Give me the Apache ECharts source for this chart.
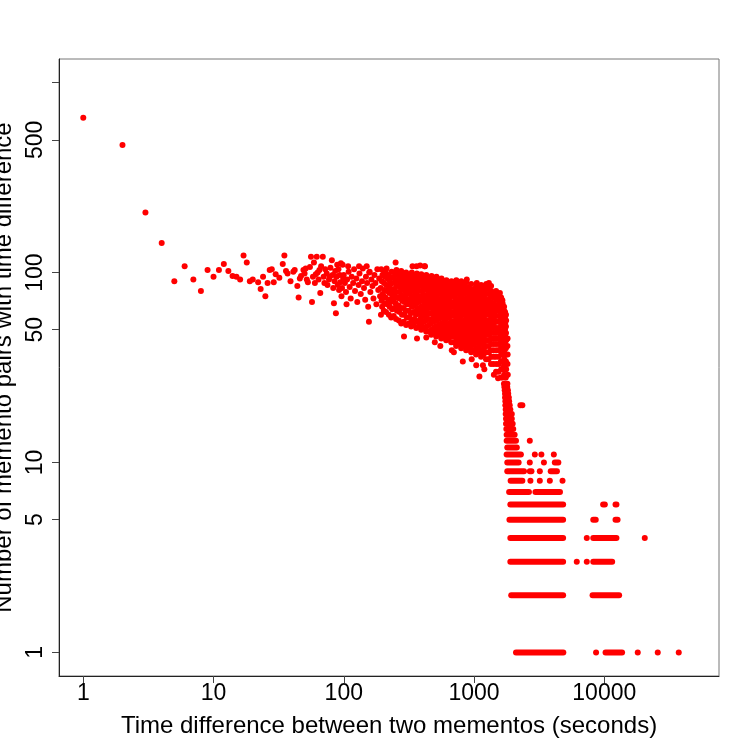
<!DOCTYPE html>
<html>
<head>
<meta charset="utf-8">
<script src="https://cdn.jsdelivr.net/npm/echarts@6/dist/echarts.min.js"></script>
<style>
html, body { margin: 0; padding: 0; background: #fff; }
#main { width: 750px; height: 750px; }
</style>
</head>
<body>
<div id="main"></div>
<script>
var xTicks = [1, 10, 100, 1000, 10000];
var yTicks = [1, 5, 10, 50, 100, 500, 1000];
var yLabels = [1, 5, 10, 50, 100, 500];

// [seconds, pairs] - short gaps
var headPoints = [
    [1, 654], [2, 469], [3, 207], [4, 143], [5, 90], [6, 108], [7, 92], [8, 80], [9, 103], [10, 95],
    [11, 103], [12, 111], [13, 102], [14, 96], [15, 95], [16, 92], [17, 123], [18, 113], [19, 90],
    [20, 92], [22, 89], [23, 82], [24, 95], [25, 75], [26, 88], [27, 103], [28, 104], [29, 89], [30, 98],
    [32, 94], [34, 111], [35, 123], [36, 102], [37, 99], [39, 90], [41, 101], [42, 103], [44, 85], [45, 74],
    [46, 93], [47, 96], [49, 103], [50, 99], [51, 105], [52, 92], [53, 89], [55, 107], [56, 121], [57, 70],
    [58, 95], [59, 113], [60, 88], [61, 98], [62, 121], [63, 100], [64, 92], [65, 103], [66, 78], [67, 108],
    [69, 121], [70, 95], [71, 88], [72, 104], [74, 99], [75, 86], [77, 92], [78, 95], [79, 106], [81, 116],
    [82, 97], [83, 83], [84, 69], [85, 90], [86, 102], [87, 61], [88, 95], [89, 110], [90, 86], [91, 104],
    [92, 81], [93, 97], [94, 89], [95, 112], [96, 75], [97, 83], [98, 110], [99, 93]
];

// 100 .. 190 s
var midPoints = [
    [100, 97], [102, 88], [104, 79], [105, 68], [106, 92], [108, 108], [109, 101], [111, 84], [113, 73],
    [115, 95], [118, 88], [120, 104], [122, 80], [125, 93], [127, 70], [130, 86], [131, 108], [132, 99],
    [135, 77], [138, 90], [140, 105], [143, 83], [146, 72], [148, 95], [150, 108], [151, 88], [154, 66],
    [156, 55], [157, 100], [158, 101], [160, 79], [163, 92], [166, 85], [169, 73], [172, 97], [175, 88],
    [178, 68], [181, 104], [184, 81], [187, 93], [190, 75]
];

// dense part, 190 .. 1800 s
var cloudPoints = [
    [193, 60], [197, 66], [195, 71], [199, 77], [192, 83], [196, 90], [198, 97], [194, 104],
    [211, 62], [215, 68], [209, 74], [214, 80], [212, 86], [216, 93], [210, 100], [213, 105],
    [231, 58], [235, 64], [229, 70], [236, 75], [232, 81], [230, 87], [234, 94], [233, 101],
    [252, 57], [256, 63], [250, 69], [257, 74], [253, 79], [255, 85], [251, 91], [258, 97], [254, 103], [250, 113],
    [276, 54], [280, 60], [274, 65], [281, 71], [277, 76], [279, 82], [275, 87], [282, 92], [278, 98], [276, 102],
    [301, 53], [305, 58], [299, 63], [306, 68], [302, 73], [304, 78], [300, 83], [307, 88], [303, 94], [301, 100],
    [329, 52], [333, 56], [327, 61], [334, 66], [330, 70], [332, 75], [328, 80], [335, 85], [331, 90], [329, 95], [333, 100],
    [360, 51], [364, 55], [358, 60], [365, 64], [361, 69], [363, 73], [359, 78], [366, 83], [362, 88], [360, 93], [364, 99], [362, 108],
    [393, 50], [397, 54], [391, 58], [398, 62], [394, 66], [396, 71], [392, 75], [399, 80], [395, 85], [393, 90], [397, 95], [394, 98],
    [429, 49], [433, 52], [427, 56], [434, 60], [430, 64], [432, 68], [428, 72], [435, 76], [431, 81], [429, 86], [433, 91], [430, 97], [420, 108],
    [469, 47], [473, 50], [467, 54], [474, 57], [470, 61], [472, 65], [468, 69], [475, 73], [471, 77], [469, 82], [473, 87], [470, 92], [472, 96],
    [512, 46], [516, 49], [510, 52], [517, 56], [513, 59], [515, 63], [511, 67], [518, 71], [514, 75], [512, 80], [516, 85], [513, 90], [515, 95],
    [560, 45], [564, 48], [558, 51], [565, 54], [561, 58], [563, 61], [559, 65], [566, 69], [562, 73], [560, 78], [564, 83], [561, 88], [563, 93],
    [611, 44], [615, 47], [609, 50], [616, 53], [612, 57], [614, 60], [610, 64], [617, 68], [613, 72], [611, 76], [615, 81], [612, 86], [614, 91],
    [668, 43], [672, 46], [666, 49], [673, 52], [669, 55], [671, 59], [667, 62], [674, 66], [670, 70], [668, 75], [672, 79], [669, 84], [671, 90],
    [729, 41], [733, 44], [727, 47], [734, 50], [730, 53], [732, 57], [728, 60], [735, 64], [731, 68], [729, 72], [733, 77], [730, 82], [732, 87], [731, 91],
    [797, 40], [801, 43], [795, 46], [802, 49], [798, 52], [800, 55], [796, 59], [803, 62], [799, 66], [797, 70], [801, 75], [798, 80], [800, 85], [799, 90],
    [870, 39], [874, 42], [868, 45], [875, 48], [871, 51], [873, 54], [869, 57], [876, 61], [872, 65], [870, 69], [874, 73], [871, 78], [873, 83], [872, 89],
    [950, 38], [954, 41], [948, 44], [955, 47], [951, 50], [953, 53], [949, 56], [956, 60], [952, 63], [950, 67], [954, 71], [951, 76], [953, 81], [952, 87],
    [1037, 37], [1043, 40], [1035, 43], [1045, 46], [1039, 49], [1042, 52], [1036, 55], [1046, 58], [1040, 62], [1038, 66], [1044, 70], [1039, 74], [1041, 79], [1040, 85],
    [1133, 36], [1139, 39], [1130, 42], [1141, 45], [1135, 48], [1138, 51], [1132, 54], [1142, 57], [1136, 61], [1134, 65], [1140, 69], [1135, 73], [1137, 78], [1136, 83], [1134, 86],
    [1237, 35], [1243, 38], [1234, 41], [1245, 44], [1239, 47], [1242, 50], [1236, 53], [1246, 56], [1240, 60], [1238, 64], [1244, 68], [1239, 72], [1241, 77], [1240, 82], [1242, 87],
    [1350, 33], [1358, 36], [1347, 39], [1360, 42], [1352, 45], [1356, 48], [1349, 51], [1361, 54], [1354, 58], [1351, 62], [1357, 66], [1353, 70], [1355, 75], [1354, 80], [1352, 85],
    [1475, 30], [1483, 33], [1472, 36], [1485, 39], [1477, 42], [1481, 45], [1474, 48], [1486, 51], [1479, 55], [1476, 59], [1482, 63], [1478, 67], [1480, 72], [1479, 77], [1477, 80],
    [1611, 28], [1619, 31], [1608, 34], [1621, 37], [1613, 40], [1617, 43], [1610, 46], [1622, 49], [1615, 53], [1612, 57], [1618, 61], [1614, 65], [1616, 70], [1615, 74],
    [1697, 26], [1703, 29], [1695, 32], [1705, 35], [1699, 38], [1702, 41], [1696, 44], [1706, 47], [1700, 51], [1698, 55], [1704, 59], [1699, 63], [1701, 66],
    [1757, 23], [1763, 25], [1755, 28], [1765, 31], [1759, 34], [1762, 37], [1756, 40], [1766, 44], [1760, 48], [1758, 52], [1764, 56], [1759, 60],
    [1806, 21], [1814, 23], [1804, 26], [1816, 29], [1808, 33], [1812, 37], [1805, 41], [1810, 45]
];

// more of the dense part, lying between the ones above
var cloudFill = [
    [203, 63], [206, 69], [202, 75], [205, 81], [204, 88], [207, 95], [203, 102],
    [222, 60], [225, 66], [221, 72], [224, 78], [223, 84], [226, 90], [222, 97],
    [242, 59], [245, 65], [241, 71], [244, 77], [243, 82], [246, 88], [242, 94], [244, 100],
    [265, 56], [268, 62], [264, 67], [267, 73], [266, 79], [269, 84], [265, 90], [267, 95], [266, 100],
    [289, 55], [292, 60], [288, 65], [291, 70], [290, 75], [293, 80], [289, 85], [291, 90], [290, 96],
    [316, 54], [319, 58], [315, 63], [318, 68], [317, 72], [320, 77], [316, 82], [318, 87], [317, 92], [319, 97],
    [345, 53], [348, 57], [344, 62], [347, 67], [346, 71], [349, 76], [345, 81], [347, 86], [346, 91], [348, 96],
    [377, 52], [380, 56], [376, 61], [379, 65], [378, 70], [381, 75], [377, 80], [379, 85], [378, 90], [380, 95],
    [410, 51], [414, 55], [409, 59], [413, 63], [411, 67], [415, 71], [410, 76], [413, 81], [412, 86], [414, 91], [411, 96],
    [448, 49], [452, 53], [447, 57], [451, 61], [449, 65], [453, 69], [448, 73], [451, 78], [450, 83], [452, 88], [449, 93],
    [490, 48], [494, 51], [489, 55], [493, 58], [491, 62], [495, 66], [490, 70], [493, 74], [492, 79], [494, 84], [491, 89], [493, 94],
    [536, 47], [540, 50], [535, 53], [539, 57], [537, 60], [541, 64], [536, 68], [539, 72], [538, 77], [540, 82], [537, 87], [539, 92],
    [585, 46], [589, 49], [584, 52], [588, 55], [586, 59], [590, 62], [585, 66], [588, 70], [587, 75], [589, 80], [586, 85], [588, 90],
    [638, 45], [644, 48], [637, 51], [643, 54], [640, 58], [645, 61], [639, 65], [642, 69], [641, 73], [644, 78], [640, 83], [642, 88],
    [697, 43], [703, 46], [696, 49], [702, 52], [699, 55], [704, 59], [698, 62], [701, 66], [700, 70], [703, 75], [699, 80], [701, 85], [700, 89],
    [762, 42], [768, 45], [761, 48], [767, 51], [764, 54], [769, 57], [763, 61], [766, 65], [765, 69], [768, 73], [764, 78], [766, 83], [765, 88],
    [832, 41], [838, 44], [831, 47], [837, 50], [834, 53], [839, 56], [833, 60], [836, 64], [835, 68], [838, 72], [834, 77], [836, 82], [835, 87],
    [908, 40], [916, 43], [907, 46], [915, 49], [911, 52], [917, 55], [909, 58], [914, 62], [912, 66], [916, 70], [910, 74], [913, 79], [912, 84],
    [991, 39], [999, 42], [990, 45], [998, 48], [994, 51], [1000, 54], [992, 57], [997, 60], [995, 64], [999, 68], [993, 72], [996, 77], [995, 82],
    [1083, 38], [1091, 41], [1082, 44], [1090, 47], [1086, 50], [1092, 53], [1084, 56], [1089, 59], [1087, 63], [1091, 67], [1085, 71], [1088, 76], [1087, 81], [1086, 85],
    [1183, 37], [1191, 40], [1182, 43], [1190, 46], [1186, 49], [1192, 52], [1184, 55], [1189, 58], [1187, 62], [1191, 66], [1185, 70], [1188, 75], [1187, 80], [1186, 85],
    [1291, 35], [1301, 38], [1290, 41], [1300, 44], [1295, 47], [1302, 50], [1292, 53], [1298, 56], [1296, 60], [1301, 64], [1293, 68], [1297, 72], [1296, 77], [1295, 82], [1297, 86],
    [1410, 33], [1420, 36], [1409, 39], [1419, 42], [1414, 45], [1421, 48], [1411, 51], [1417, 54], [1415, 57], [1420, 61], [1412, 65], [1416, 69], [1415, 74], [1414, 78],
    [1541, 30], [1551, 33], [1540, 36], [1550, 39], [1545, 42], [1552, 45], [1542, 48], [1548, 51], [1546, 55], [1551, 59], [1543, 63], [1547, 67], [1546, 71], [1545, 75],
    [1652, 28], [1662, 31], [1651, 34], [1661, 37], [1656, 40], [1663, 43], [1653, 46], [1659, 49], [1657, 53], [1662, 57], [1654, 61], [1658, 65], [1657, 69],
    [1726, 25], [1734, 28], [1725, 31], [1733, 34], [1729, 37], [1735, 40], [1727, 43], [1732, 46], [1730, 50], [1734, 54], [1728, 58], [1731, 62]
];

// stray points round the dense part
var strayPoints = [
    [290, 46], [365, 45], [430, 45.5], [500, 43], [551, 41], [675, 39], [700, 38], [820, 34], [960, 35],
    [1040, 32.5], [1100, 28.4], [1170, 32.5], [1200, 31], [1420, 29], [1530, 27.8],
    [337, 108], [386, 109], [417, 108], [880, 92], [1050, 88], [1300, 88], [1580, 78], [1650, 71.5]
];

// single points right of the drop
var tailDots = [
    [8650, 1], [18075, 1], [25740, 1], [37300, 1], [6150, 3], [7340, 3], [7340, 4], [20460, 4],
    [2710, 8], [3200, 8], [3820, 8], [4780, 8], [3200, 9], [2680, 10], [3440, 10],
    [2930, 11], [3290, 11], [4100, 11], [2680, 13], [2270, 20], [2350, 20]
];

// [pairs, from seconds, to seconds] - runs of dots that merge into a row
var bandRows = [
    [1, 2100, 4850], [1, 10230, 13700],
    [2, 1930, 4830], [2, 8130, 13000],
    [3, 1900, 4830], [3, 8230, 11500],
    [4, 1900, 4830], [4, 8230, 12400],
    [5, 1870, 4830], [5, 8230, 8600], [5, 12200, 12650],
    [6, 1900, 4830], [6, 9800, 10100], [6, 12200, 12400],
    [7, 1860, 2640], [7, 2960, 4570],
    [8, 1910, 2350],
    [9, 1800, 2420], [9, 2680, 2760], [9, 3880, 4330],
    [10, 1800, 2200], [10, 4170, 4440],
    [11, 1780, 2290], [12, 1800, 2130], [13, 1780, 2100], [14, 1780, 2050], [15, 1770, 2000],
    [16, 1760, 1980], [17, 1760, 1950], [18, 1750, 1950], [19, 1750, 1900], [20, 1740, 1880],
    [21, 1740, 1860], [22, 1730, 1850], [23, 1730, 1830], [24, 1720, 1820], [25, 1710, 1800]
];

var red = '#ff0000';
var font = 'Liberation Sans, Arial, Helvetica, sans-serif';

var series = [{
    type: 'scatter',
    symbol: 'circle',
    symbolSize: 6,
    itemStyle: { color: red, opacity: 1 },
    silent: true,
    large: false,
    data: headPoints.concat(midPoints, cloudPoints, cloudFill, strayPoints, tailDots)
}];

bandRows.forEach(function (r) {
    series.push({
        type: 'line',
        symbol: 'none',
        silent: true,
        lineStyle: { color: red, width: 6, cap: 'round', opacity: 1 },
        data: [[r[1], r[0]], [r[2], r[0]]]
    });
});

function plainNumber(v) {
    return String(Math.round(v));
}

var myChart = echarts.init(document.getElementById('main'));
var option = {
    animation: false,
    backgroundColor: '#fff',
    grid: {
        left: 59,
        right: 31,
        top: 59,
        bottom: 74,
        show: true,
        borderColor: '#777',
        borderWidth: 1,
        containLabel: false,
        outerBoundsMode: 'none'
    },
    xAxis: {
        type: 'log',
        logBase: 10,
        min: 0.651,
        max: 76000,
        name: 'Time difference between two mementos (seconds)',
        nameLocation: 'middle',
        nameGap: 38,
        nameTextStyle: { color: '#000', fontSize: 24, fontFamily: font },
        axisLine: { show: true, lineStyle: { color: '#222', width: 1 } },
        axisTick: { show: true, inside: false, length: 7, customValues: xTicks, lineStyle: { color: '#444' } },
        axisLabel: { color: '#000', fontSize: 23, fontFamily: font, margin: 6, customValues: xTicks, formatter: plainNumber },
        splitLine: { show: false },
        minorTick: { show: false },
        minorSplitLine: { show: false }
    },
    yAxis: {
        type: 'log',
        logBase: 10,
        min: 0.751,
        max: 1332,
        name: 'Number of memento pairs with time difference',
        nameLocation: 'middle',
        nameRotate: 90,
        nameGap: 41,
        nameTextStyle: { color: '#000', fontSize: 24, fontFamily: font },
        axisLine: { show: true, lineStyle: { color: '#222', width: 1 } },
        axisTick: { show: true, inside: false, length: 7, customValues: yTicks, lineStyle: { color: '#444' } },
        axisLabel: { color: '#000', fontSize: 23, fontFamily: font, margin: 12, rotate: 90, customValues: yLabels, formatter: plainNumber },
        splitLine: { show: false },
        minorTick: { show: false },
        minorSplitLine: { show: false }
    },
    series: series
};
myChart.setOption(option);
</script>
</body>
</html>
